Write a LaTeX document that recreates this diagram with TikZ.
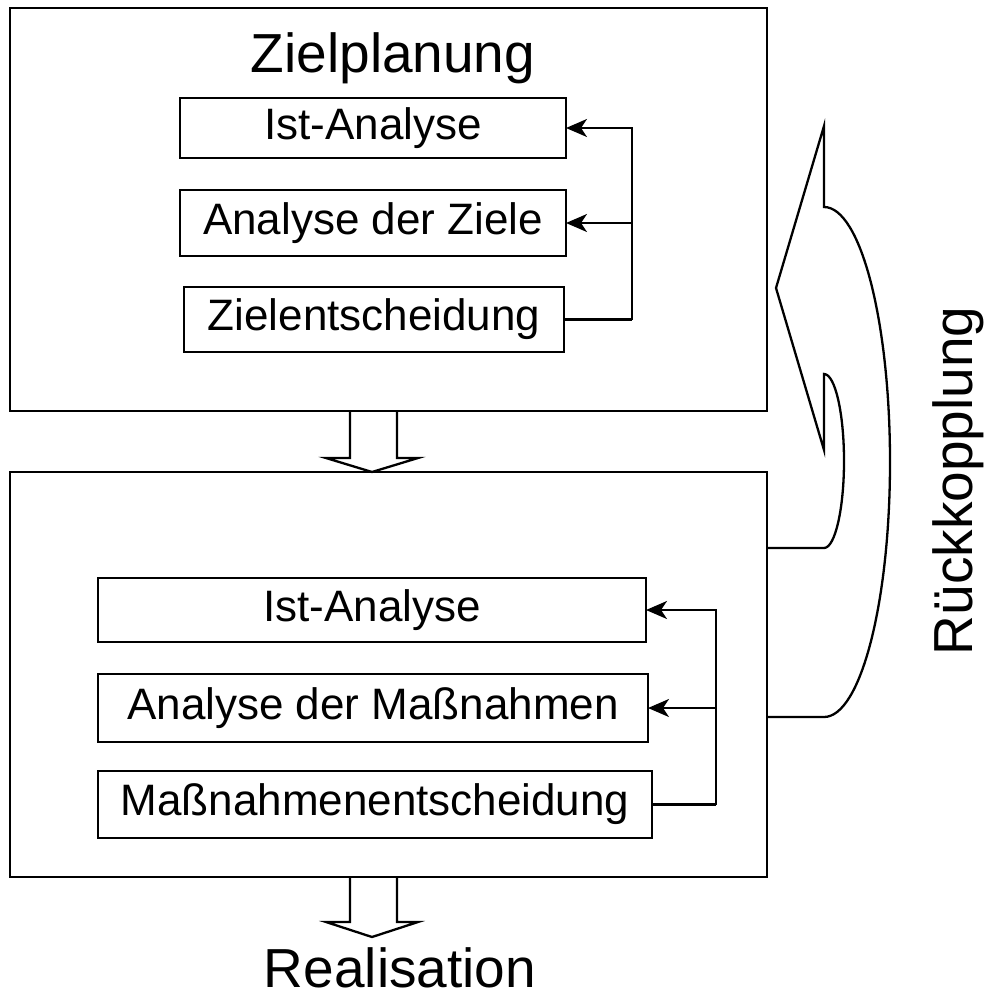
\documentclass[tikz,border=0pt]{standalone}
\usepackage{fontspec}
\setmainfont{Liberation Sans}
\usetikzlibrary{arrows.meta}
\begin{document}
\begin{tikzpicture}[x=0.5pt,y=-0.5pt,
  line width=1.15pt,
  frame/.style={draw, rectangle, inner sep=0pt, outer sep=0pt},
  stepbox/.style={draw, rectangle, inner sep=0pt, outer sep=0pt,
    font=\fontsize{22pt}{27pt}\selectfont},
  bigtext/.style={font=\fontsize{27.5pt}{34pt}\selectfont, inner sep=0pt},
  feed/.style={-{Stealth[length=10.5pt,width=9pt,inset=3pt]}},
  block/.style={draw, line join=miter}
]
\useasboundingbox (0,0) rectangle (985,1001);

% outer frames
\node[frame, minimum width=378.5pt, minimum height=201.5pt] (plan) at (388.5,209.5) {};
\node[frame, minimum width=378.5pt, minimum height=202.5pt] (mass) at (388.5,674.5) {};

\node[bigtext, anchor=base] (title) at (393,72) {Zielplanung};

% steps of the goal planning
\node[stepbox, minimum width=193pt, minimum height=30pt]   (z1) at (373,128)   {Ist-Analyse};
\node[stepbox, minimum width=193pt, minimum height=33pt]   (z2) at (373,223)   {Analyse der Ziele};
\node[stepbox, minimum width=190pt, minimum height=32.5pt] (z3) at (374,319.5) {Zielentscheidung};

\coordinate (zbus) at (632,0);
\draw (z3.east) -- (z3.east -| zbus);
\draw[feed] (z3.east -| zbus) |- (z1.east);
\draw[feed] (z2.east -| zbus) -- (z2.east);

% steps of the measure planning
\node[stepbox, minimum width=274pt, minimum height=32pt]   (m1) at (372,610)   {Ist-Analyse};
\node[stepbox, minimum width=275pt, minimum height=34pt]   (m2) at (373,708)   {Analyse der Maßnahmen};
\node[stepbox, minimum width=277pt, minimum height=33.5pt] (m3) at (375,804.5) {Maßnahmenentscheidung};

\coordinate (mbus) at (716,0);
\draw (m3.east) -- (m3.east -| mbus);
\draw[feed] (m3.east -| mbus) |- (m1.east);
\draw[feed] (m2.east -| mbus) -- (m2.east);

% block arrows
\draw[block] (350,411) -- (350,458) -- (326,458) -- (372,472) -- (418,458) -- (397,458) -- (397,411);
\draw[block] (350,877) -- (350,922) -- (326,922) -- (372,937) -- (418,922) -- (397,922) -- (397,877);

\node[bigtext, anchor=base] (real) at (400,987) {Realisation};

% feedback arrow
\coordinate (fbA) at (mass.east |- 0,717);
\coordinate (fbB) at (mass.east |- 0,548);
\draw[line join=miter] (fbA) -- (824,717)
  arc[start angle=90, end angle=-90, x radius=66, y radius=255]
  -- (824,126) -- (776,288) -- (824,450) -- (824,374)
  arc[start angle=-90, end angle=90, x radius=20, y radius=87]
  -- (fbB);

\node[bigtext, rotate=90, anchor=base] (fb) at (972,481) {Rückkopplung};
\end{tikzpicture}
\end{document}
